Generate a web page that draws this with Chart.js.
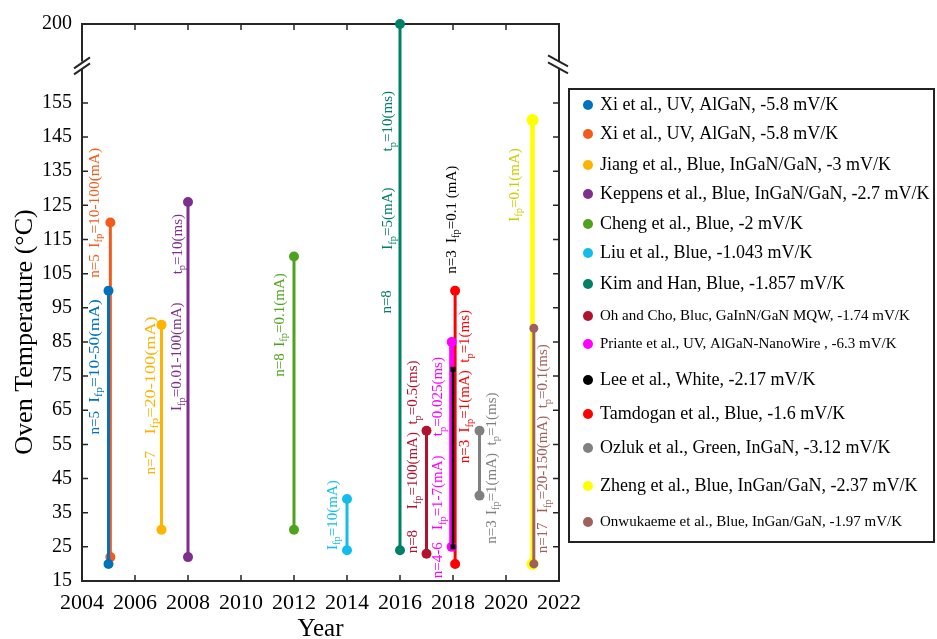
<!DOCTYPE html>
<html>
<head>
<meta charset="utf-8">
<script src="https://cdn.jsdelivr.net/npm/chart.js@4.4.0/dist/chart.umd.min.js"></script>
<style>
  html, body { margin: 0; padding: 0; background: #fff; }
</style>
</head>
<body>
<canvas id="chart" width="937" height="639"></canvas>
<script>
// studies (one vertical range each)
var studies = [
    'Xi et al., UV, AlGaN, -5.8 mV/K',
    'Xi et al., UV, AlGaN, -5.8 mV/K',
    'Jiang et al., Blue, InGaN/GaN, -3 mV/K',
    'Keppens et al., Blue, InGaN/GaN, -2.7 mV/K',
    'Cheng et al., Blue, -2 mV/K',
    'Liu et al., Blue, -1.043 mV/K',
    'Kim and Han, Blue, -1.857 mV/K',
    'Oh and Cho, Bluc, GaInN/GaN MQW, -1.74 mV/K',
    'Priante et al., UV, AlGaN-NanoWire , -6.3 mV/K',
    'Lee et al., White, -2.17 mV/K',
    'Tamdogan et al., Blue, -1.6 mV/K',
    'Ozluk et al., Green, InGaN, -3.12 mV/K',
    'Zheng et al., Blue, InGan/GaN, -2.37 mV/K',
    'Onwukaeme et al., Blue, InGan/GaN, -1.97 mV/K'
];
var years    = [2005, 2005.07, 2007, 2008, 2012, 2014, 2016, 2017, 2017.95, 2018, 2018.08, 2019, 2021, 2021.05];
var tempLow  = [20, 22, 30, 22, 30, 24, 24, 23, 25, 25, 20, 40, 20, 20];
var tempHigh = [100, 120, 90, 126, 110, 39, 200, 59, 85, 77, 100, 59, 150, 89];
var colors = ['#0072BD', '#F35B1C', '#FDB300', '#7E2F8E', '#4FA31C', '#12BDEB', '#008066',
              '#B0122F', '#FF00FF', '#000000', '#FF0000', '#808080', '#FFFF00', '#A0605B'];

var xTicks = [2004, 2006, 2008, 2010, 2012, 2014, 2016, 2018, 2020, 2022];
var yTicks = [15, 25, 35, 45, 55, 65, 75, 85, 95, 105, 115, 125, 135, 145, 155, 200];

// [study, year, start temperature, text, optional end temperature]  (_{..} = subscript)
var notes = [
    [0, 2004.49, 57.9, 'n=5'], [0, 2004.49, 67.2, 'I_{fp}=10-50(mA)', 97.5],
    [1, 2004.49, 103.8, 'n=5'], [1, 2004.49, 112.6, 'I_{fp}=10-100(mA)', 141.8],
    [2, 2006.59, 46.2, 'n=7'], [2, 2006.59, 57.9, 'I_{fp}=20-100(mA)', 92.5],
    [3, 2007.6, 64.8, 'I_{fp}=0.01-100(mA)'], [3, 2007.62, 104.8, 't_{p}=10(ms)'],
    [4, 2011.47, 74.8, 'n=8'], [4, 2011.47, 83.6, 'I_{fp}=0.1(mA)'],
    [5, 2013.48, 24.1, 'I_{fp}=10(mA)'],
    [6, 2015.52, 93.3, 'n=8'], [6, 2015.56, 112, 'I_{fp}=5(mA)'], [6, 2015.56, 140.8, 't_{p}=10(ms)'],
    [7, 2016.5, 23.1, 'n=8'], [7, 2016.5, 36, 'I_{fp}=100(mA)  t_{p}=0.5(ms)'],
    [8, 2017.45, 15.8, 'n=4-6'], [8, 2017.45, 29.9, 'I_{fp}=1-7(mA)'], [8, 2017.45, 57.4, 't_{p}=0.025(ms)'],
    [9, 2017.95, 105, 'n=3'], [9, 2017.95, 114, 'I_{fp}=0.1 (mA)'],
    [10, 2018.47, 49.5, 'n=3'], [10, 2018.47, 58.5, 'I_{fp}=1(mA)  t_{p}=1(ms)'],
    [11, 2019.46, 25.9, 'n=3'], [11, 2019.46, 34.3, 'I_{fp}=1(mA)  t_{p}=1(ms)'],
    [12, 2020.34, 120.2, 'I_{fp}=0.1(mA)'],
    [13, 2021.41, 23.1, 'n=17'], [13, 2021.41, 34.9, 'I_{fp}=20-150(mA)  t_{p}=0.1(ms)']
];

// broken axis: everything above 155 is squeezed so that 200 sits at the top
var BREAK_AT = 155, AXIS_TOP = 178.1, REAL_TOP = 200;
function toAxis(v) {
    return v <= BREAK_AT ? v : BREAK_AT + (v - BREAK_AT) * (AXIS_TOP - BREAK_AT) / (REAL_TOP - BREAK_AT);
}

var SERIF = "'Liberation Serif', 'Times New Roman', serif";
Chart.defaults.font.family = SERIF;
Chart.defaults.color = '#000';

var datasets = studies.map(function (label, i) {
    return {
        label: label,
        data: [{x: years[i], y: toAxis(tempLow[i])}, {x: years[i], y: toAxis(tempHigh[i])}],
        showLine: true,
        borderColor: colors[i],
        backgroundColor: colors[i],
        pointBackgroundColor: colors[i],
        pointBorderColor: colors[i],
        pointBorderWidth: 0,
        borderWidth: 3,
        pointRadius: 5,
        clip: false,
        order: 0
    };
});
// Lee: black, thin, small squares, on top of Priante
datasets[9].pointStyle = 'rect';
datasets[9].pointRadius = 3.5;
datasets[9].borderWidth = 2.5;
datasets[9].order = -2;
datasets[8].borderWidth = 5;
datasets[12].borderWidth = 4.5;
datasets[12].pointRadius = 6;
datasets[13].order = -1;
datasets[13].pointRadius = 4.5;

function splitRich(text) {
    var parts = [];
    text.replace(/_\{([^}]*)\}|([^_]+)/g, function (m, sub, normal) {
        if (sub !== undefined) parts.push({t: sub, sub: true});
        else parts.push({t: normal, sub: false});
    });
    return parts;
}

function drawRich(ctx, x, y, text, color, size, length) {
    var parts = splitRich(text);
    ctx.save();
    var w = 0;
    parts.forEach(function (p) {
        ctx.font = (p.sub ? size * 0.7 : size) + 'px ' + SERIF;
        w += ctx.measureText(p.t).width;
    });
    ctx.translate(x, y);
    ctx.rotate(-Math.PI / 2);
    if (length) ctx.scale(length / w, 1);
    ctx.fillStyle = color;
    ctx.textBaseline = 'middle';
    ctx.textAlign = 'left';
    var cx = 0;
    parts.forEach(function (p) {
        ctx.font = (p.sub ? size * 0.7 : size) + 'px ' + SERIF;
        ctx.fillText(p.t, cx, p.sub ? size * 0.3 : 0);
        cx += ctx.measureText(p.t).width;
    });
    ctx.restore();
}

var framePlugin = {
    id: 'frame',
    beforeDatasetsDraw: function (chart) {
        var ctx = chart.ctx, a = chart.chartArea;
        var xs = chart.scales.x, ys = chart.scales.y;
        ctx.save();
        ctx.strokeStyle = '#262626';
        ctx.lineWidth = 2;
        ctx.strokeRect(a.left, a.top, a.right - a.left, a.bottom - a.top);
        ctx.lineWidth = 1.5;
        ctx.beginPath();
        xTicks.forEach(function (v) {
            var px = xs.getPixelForValue(v);
            ctx.moveTo(px, a.bottom); ctx.lineTo(px, a.bottom - 6);
            ctx.moveTo(px, a.top); ctx.lineTo(px, a.top + 6);
        });
        yTicks.forEach(function (v) {
            var py = ys.getPixelForValue(toAxis(v));
            ctx.moveTo(a.left, py); ctx.lineTo(a.left + 6, py);
            ctx.moveTo(a.right, py); ctx.lineTo(a.right - 6, py);
        });
        ctx.stroke();

        // axis break marks
        var by = ys.getPixelForValue((BREAK_AT + AXIS_TOP) / 2) + 2;
        ctx.fillStyle = '#fff';
        ctx.fillRect(a.left - 3, by - 4, 6, 7);
        ctx.fillRect(a.right - 3, by - 4, 6, 7);
        ctx.lineWidth = 2;
        ctx.beginPath();
        ctx.moveTo(a.left - 8, by + 3); ctx.lineTo(a.left + 8, by - 8);
        ctx.moveTo(a.left - 8, by + 9); ctx.lineTo(a.left + 8, by - 2);
        ctx.moveTo(a.right - 11, by - 10); ctx.lineTo(a.right + 9, by + 1);
        ctx.moveTo(a.right - 11, by - 3); ctx.lineTo(a.right + 9, by + 8);
        ctx.stroke();
        ctx.restore();
    },
    afterDatasetsDraw: function (chart) {
        var ctx = chart.ctx, xs = chart.scales.x, ys = chart.scales.y;
        notes.forEach(function (n) {
            var col = n[0] === 12 ? '#CDCD00' : colors[n[0]];
            var y0 = ys.getPixelForValue(toAxis(n[2]));
            var len = n.length > 4 ? y0 - ys.getPixelForValue(toAxis(n[4])) : 0;
            drawRich(ctx, xs.getPixelForValue(n[1]), y0, n[3], col, 15, len);
        });
    },
    afterDraw: function (chart) {
        var ctx = chart.ctx;
        ctx.save();
        // y-axis title
        ctx.translate(25, 332);
        ctx.rotate(-Math.PI / 2);
        ctx.fillStyle = '#000';
        ctx.font = '26px ' + SERIF;
        ctx.textAlign = 'center';
        ctx.textBaseline = 'middle';
        ctx.fillText('Oven Temperature (\u00B0C)', 0, 0);
        ctx.restore();

        // legend box
        var rowY = [105, 134, 165, 194, 224, 253, 284, 316, 344, 380, 414, 448, 486, 522];
        var small = [7, 8, 13];
        ctx.save();
        ctx.strokeStyle = '#222';
        ctx.lineWidth = 2;
        ctx.strokeRect(569, 89, 365, 453);
        chart.data.datasets.forEach(function (ds, i) {
            ctx.beginPath();
            ctx.fillStyle = colors[i];
            ctx.arc(588, rowY[i], 5, 0, Math.PI * 2);
            ctx.fill();
            ctx.fillStyle = '#000';
            ctx.font = (small.indexOf(i) >= 0 ? 15 : 18) + 'px ' + SERIF;
            ctx.textBaseline = 'middle';
            ctx.textAlign = 'left';
            ctx.fillText(ds.label, 600, rowY[i]);
        });
        ctx.restore();
    }
};

new Chart(document.getElementById('chart'), {
    type: 'scatter',
    data: {datasets: datasets},
    options: {
        responsive: false,
        animation: false,
        devicePixelRatio: 1,
        layout: {padding: {top: 24, right: 378, left: 0, bottom: 0}},
        plugins: {legend: {display: false}, tooltip: {enabled: false}},
        scales: {
            x: {
                type: 'linear', min: 2004, max: 2022,
                grid: {display: false, drawTicks: false},
                border: {display: false},
                afterBuildTicks: function (s) { s.ticks = xTicks.map(function (v) { return {value: v}; }); },
                afterFit: function (s) { s.height = 58; },
                ticks: {
                    autoSkip: false, maxRotation: 0, padding: 9,
                    font: {size: 22},
                    callback: function (v, i) { return String(xTicks[i]); }
                },
                title: {display: true, text: 'Year', font: {size: 25, lineHeight: 0.8}, padding: 0}
            },
            y: {
                type: 'linear', min: 15, max: AXIS_TOP,
                grid: {display: false, drawTicks: false},
                border: {display: false},
                afterBuildTicks: function (s) { s.ticks = yTicks.map(function (v) { return {value: toAxis(v)}; }); },
                afterFit: function (s) { s.width = 82; },
                ticks: {
                    autoSkip: false, padding: 10,
                    font: {size: 20},
                    callback: function (v, i) { return String(yTicks[i]); }
                }
            }
        }
    },
    plugins: [framePlugin]
});
</script>
</body>
</html>
